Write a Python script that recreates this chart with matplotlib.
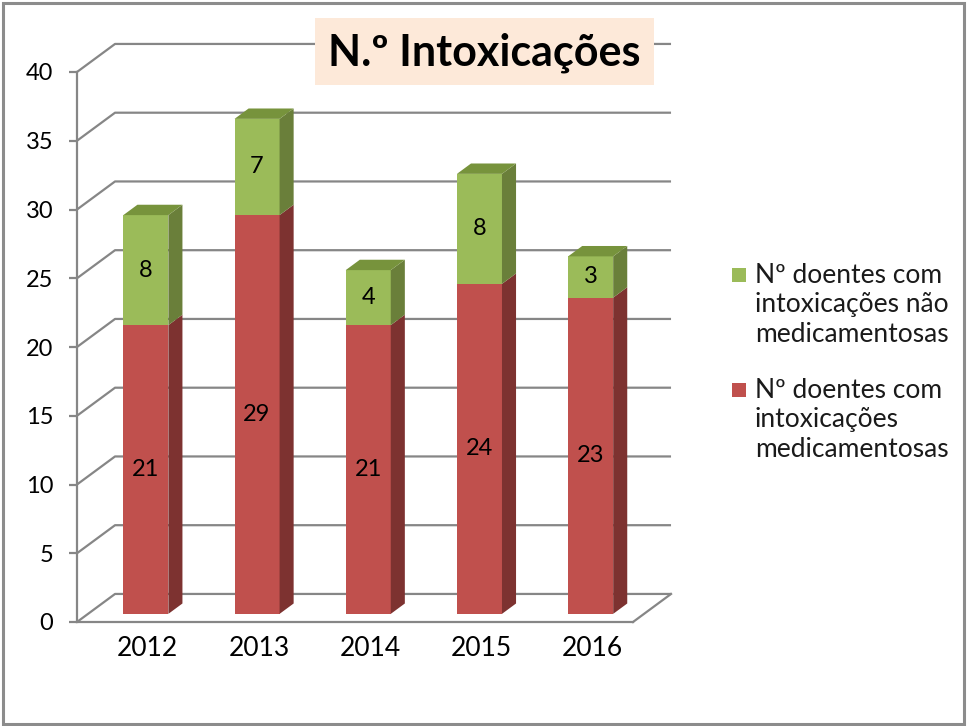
import matplotlib.pyplot as plt
from matplotlib.patches import Polygon, Rectangle

years = ['2012', '2013', '2014', '2015', '2016']
medicamentosas = [21, 29, 21, 24, 23]
nao_medicamentosas = [8, 7, 4, 8, 3]
yticks = [0, 5, 10, 15, 20, 25, 30, 35, 40]
title = 'N.º Intoxicações'
legend_labels = ['Nº doentes com\nintoxicações não\nmedicamentosas',
                 'Nº doentes com\nintoxicações\nmedicamentosas']

red, red_side = '#C0504D', '#7D3230'
green, green_side, green_top = '#9BBB59', '#6A7F3A', '#77933C'
grid_c = '#868686'

plt.rcParams['font.family'] = ['Lato', 'DejaVu Sans']

W, H = 967, 726
fig = plt.figure(figsize=(W / 100, H / 100), dpi=100)
ax = fig.add_axes([77 / W, 104 / H, 556 / W, 550 / H])
ax.set_xlim(0, 5)
ax.set_ylim(0, 40)

DX, DY = 0.342, 2.04   # back wall offset (data units)
tf, tb = 0.29, 0.66    # bar front / back depth fraction
bw = 0.405

# back wall + floor
for v in yticks:
    ax.plot([0, DX, 5 + DX], [v, v + DY, v + DY], color=grid_c, lw=1.6,
            clip_on=False, zorder=1, solid_capstyle='butt')
ax.plot([5, 5 + DX], [0, DY], color=grid_c, lw=1.6, clip_on=False, zorder=1)


def box(xc, y0, h, front, side, top=None):
    fx = xc - bw / 2 + tf * DX
    fy = y0 + tf * DY
    d = tb - tf
    ax.add_patch(Rectangle((fx, fy), bw, h, fc=front, ec='none',
                           clip_on=False, zorder=3))
    ax.add_patch(Polygon([(fx + bw, fy), (fx + bw + d * DX, fy + d * DY),
                          (fx + bw + d * DX, fy + h + d * DY), (fx + bw, fy + h)],
                         closed=True, fc=side, ec='none', clip_on=False, zorder=3))
    if top is not None:
        ax.add_patch(Polygon([(fx, fy + h), (fx + bw, fy + h),
                              (fx + bw + d * DX, fy + h + d * DY),
                              (fx + d * DX, fy + h + d * DY)],
                             closed=True, fc=top, ec='none', clip_on=False, zorder=3))
    return fx + bw / 2, fy + h / 2


for i in range(len(years)):
    xc = i + 0.52
    lx, ly = box(xc, 0, medicamentosas[i], red, red_side)
    ax.text(lx, ly, str(medicamentosas[i]), ha='center', va='center',
            fontsize=17, zorder=5)
    lx, ly = box(xc, medicamentosas[i], nao_medicamentosas[i], green, green_side, green_top)
    ax.text(lx, ly, str(nao_medicamentosas[i]), ha='center', va='center',
            fontsize=17, zorder=5)

for s in ['top', 'right']:
    ax.spines[s].set_visible(False)
for s in ['left', 'bottom']:
    ax.spines[s].set_color(grid_c)
    ax.spines[s].set_linewidth(1.6)

ax.set_yticks(yticks)
ax.tick_params(axis='y', length=6, width=1.6, color=grid_c, labelsize=17, pad=11)
ax.set_xticks([i + 0.5 + 0.4 * DX for i in range(len(years))], years)
ax.tick_params(axis='x', length=0, labelsize=19, pad=10)

# title
fig.add_artist(Rectangle((315 / W, 1 - 85 / H), 339 / W, 67 / H,
                         transform=fig.transFigure, fc='#FDE9D9', ec='none', zorder=5))
fig.text(484 / W, 1 - 53 / H, title, ha='center', va='center', fontsize=31,
         fontweight='bold', zorder=6)

# legend
for k, (lab, col) in enumerate(zip(legend_labels, [green, red])):
    top = 268 + 115 * k
    fig.add_artist(Rectangle((732 / W, 1 - (top + 14) / H), 14 / W, 14 / H,
                             transform=fig.transFigure, fc=col, ec='none'))
    fig.text(755 / W, 1 - (top - 5) / H, lab, ha='left', va='top', fontsize=19,
             linespacing=1.22, color='#1a1a1a')

# outer border
fig.add_artist(Rectangle((3 / W, 2 / H), 961 / W, 721 / H, transform=fig.transFigure,
                         fill=False, ec='#8C8C8C', lw=2.2))

fig.savefig('out.png', dpi=100)
